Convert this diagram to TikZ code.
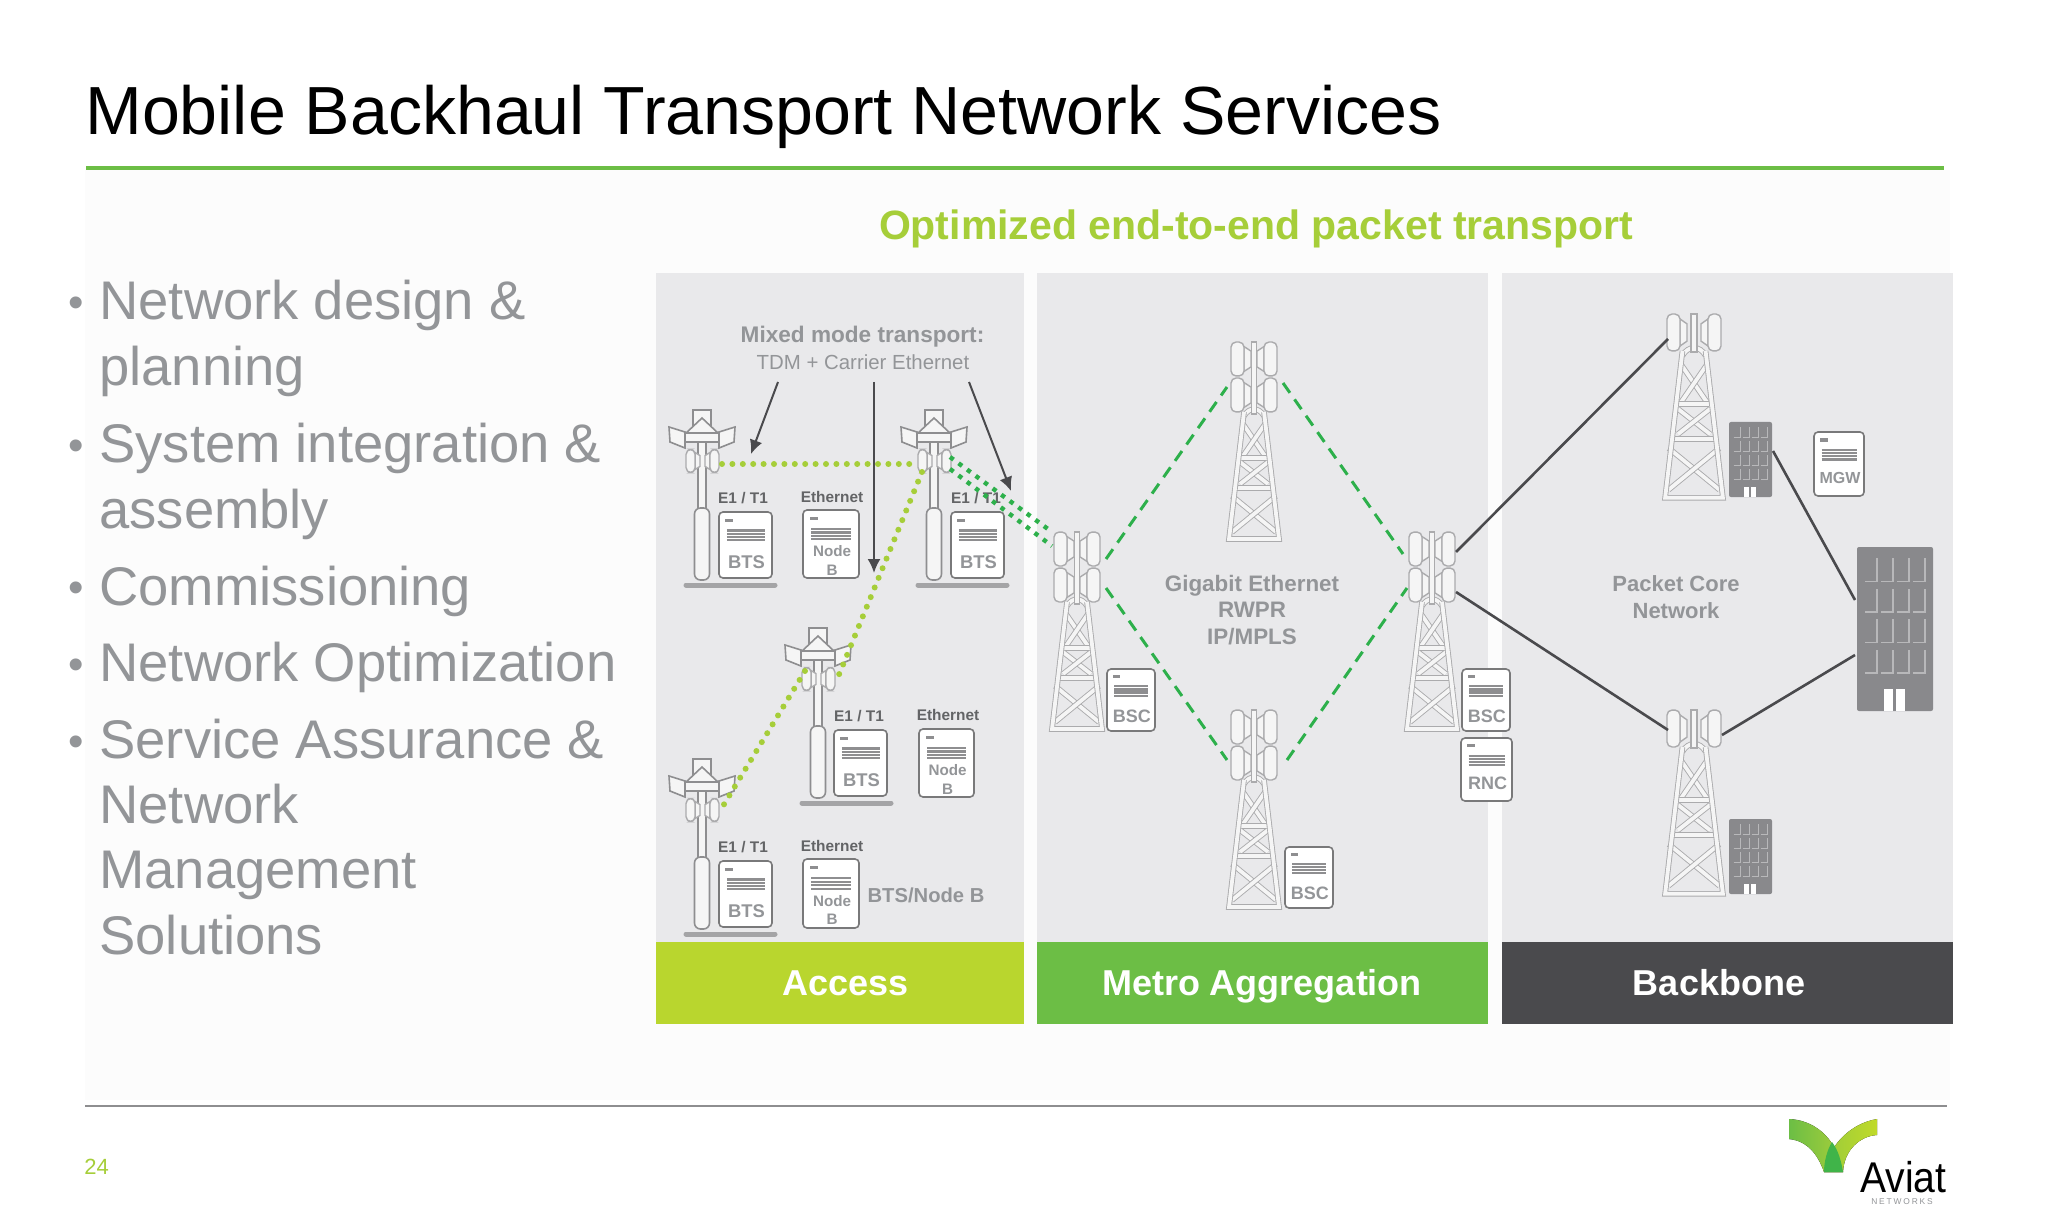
\documentclass[tikz,border=0pt]{standalone}
\usepackage{fontspec}
\setmainfont{Liberation Sans}
\usepackage{xcolor}
\usetikzlibrary{arrows.meta,positioning}

\definecolor{titlegreen}{HTML}{6CBE45}
\definecolor{limegreen}{HTML}{A6CE39}
\definecolor{barlime}{HTML}{B9D62E}
\definecolor{bardark}{HTML}{4A4A4D}
\definecolor{panelgray}{HTML}{E9E9EB}
\definecolor{softgray}{HTML}{939598}
\definecolor{labgray}{HTML}{636466}
\definecolor{linegray}{HTML}{8E8E90}
\definecolor{lightline}{HTML}{ABABAD}
\definecolor{partwhite}{HTML}{F5F5F5}
\definecolor{linkgreen}{HTML}{2DB04B}
\definecolor{bldgray}{HTML}{89898C}

\tikzset{
  part/.style={draw=linegray, line width=0.8pt, fill=partwhite},
  soft/.style={draw=lightline, line width=0.7pt, fill=partwhite},
  truss/.style={draw=lightline, line width=0.45pt, double=partwhite, double distance=1.9pt},
  pics/dish/.style={code={
    \draw[soft] (0,-7) -- (7,-11) -- (7,11) -- (0,7) -- cycle;
    \draw[soft, rounded corners=2.5pt] (7,-15) rectangle (20,15);
  }},
  pics/mast/.style={code={
    \draw[part] (-4,0) rectangle (4,100);
    \draw[part, rounded corners=3pt] (-7.5,98) rectangle (7.5,170);
    \draw[part] (-9,0) rectangle (9,20);
    \draw[part] (-17,24) -- (0,8) -- (17,24) -- cycle;
    \draw[part] (-33,17) -- (-17,22) -- (-17,38) -- (-32,32) -- cycle;
    \draw[part] (33,17) -- (17,22) -- (17,38) -- (32,32) -- cycle;
    \draw[part] (-17,23) rectangle (17,32);
    \pic[xscale=-0.7, yscale=0.77] at (-2,51) {dish};
    \pic[xscale=0.7, yscale=0.77] at (3,51) {dish};
    \draw[line width=2.5pt, linegray!80, line cap=round] (-16,175) -- (73,175);
  }},
  pics/lattice/.style={code={
    \draw[truss] (-10,4) .. controls (-5,-5) and (5,-5) .. (10,4);
    \draw[truss] (-11,12) -- (11,44);
    \draw[truss] (11,12) -- (-11,44);
    \draw[truss] (-13,46) -- (13,46);
    \draw[truss] (-14,50) -- (14,72);
    \draw[truss] (14,50) -- (-14,72);
    \draw[truss] (-17,76) -- (17,76);
    \draw[truss] (-22,84) -- (22,120);
    \draw[truss] (22,84) -- (-22,120);
    \draw[truss] (-10,0) -- (-25,127) -- (25,127) -- (10,0);
  }},
  pics/metrotower/.style={code={
    \pic at (0,70) {lattice};
    \draw[soft] (-2.5,0) rectangle (2.5,72);
    \pic[xscale=-1, yscale=1.13] at (-3,17) {dish};
    \pic[yscale=1.13] at (3,17) {dish};
    \pic[xscale=-1, yscale=1.13] at (-3,53) {dish};
    \pic[yscale=1.13] at (3,53) {dish};
  }},
  pics/coretower/.style={code={
    \pic[scale=1.156] at (0,37) {lattice};
    \draw[soft] (-3,0) rectangle (3,38);
    \pic[xscale=-1, yscale=1.23] at (-7,18.5) {dish};
    \pic[yscale=1.23] at (7,18.5) {dish};
  }},
  pics/unit/.style n args={5}{code={
    \draw[draw=linegray!85!black, line width=0.8pt, fill=white, rounded corners=2pt] (0,0) rectangle (#1,#2);
    \fill[linegray] (0.12*#1,0.1*#2) rectangle (0.27*#1,0.15*#2);
    \foreach \k in {0.28,0.33,0.38,0.43}
      \draw[linegray, line width=1.1pt] (0.15*#1,\k*#2) -- (0.86*#1,\k*#2);
    \node[font=\fontsize{#4}{9.2}\bfseries\selectfont, text=softgray, align=center, inner sep=0pt] (-lab) at (0.52*#1,#5*#2) {#3};
  }},
  pics/building/.style={code={
    \fill[bldgray, rounded corners=1pt] (0,0) rectangle (76,134);
    \foreach \r in {0,1,2,3}
      \foreach \c in {0,1,2,3}
        \draw[white!40!bldgray, line width=0.7pt] (8+16*\c,28+25*\r) -- (20+16*\c,28+25*\r) -- (20+16*\c,9+25*\r);
    \fill[white] (27,116) rectangle (48,134);
    \fill[bldgray] (36,116) rectangle (39,134);
  }},
}

\begin{document}
\begin{tikzpicture}[x=0.5pt, y=-0.5pt, >={Latex[length=7pt,width=6.5pt]}]
  % Styles
  \tikzstyle{titletxt}=[anchor=base west, inner sep=0pt, font=\fontsize{34.05}{40}\selectfont]
  \tikzstyle{bullet}=[anchor=base west, inner sep=0pt, text=softgray, font=\fontsize{27.2}{32}\selectfont]
  \tikzstyle{panel}=[fill=panelgray]
  \tikzstyle{bar}=[anchor=base, text=white, font=\fontsize{18}{22}\bfseries\selectfont]
  \tikzstyle{head}=[text=softgray, align=center, inner sep=0pt, font=\fontsize{11.2}{13.4}\bfseries\selectfont]
  \tikzstyle{lab}=[text=labgray, inner sep=0pt, font=\fontsize{7.7}{9}\bfseries\selectfont]
  \tikzstyle{note}=[draw=bardark, line width=1pt, ->]
  \tikzstyle{wire}=[draw=bardark, line width=1.3pt]
  \tikzstyle{ringlink}=[draw=linkgreen, line width=1.5pt, dash pattern=on 6pt off 4pt]
  \tikzstyle{limedots}=[draw=limegreen, line width=3pt, line cap=round, dash pattern=on 0pt off 5.2pt]
  \tikzstyle{greendots}=[draw=linkgreen, line width=2.2pt, dash pattern=on 2.2pt off 3.1pt]

  \useasboundingbox (0,0) rectangle (2048,1229);
  \fill[white] (0,0) rectangle (2048,1229);
  \fill[black!1] (85,170) rectangle (1950,1100);

  % Title
  \node[titletxt] (title) at (85,134.5) {Mobile Backhaul Transport Network Services};
  \draw[titlegreen, line width=2pt] (86,168.5) -- (1944,168.5);
  \node[inner sep=0pt, text=limegreen, anchor=base, font=\fontsize{20.5}{24}\bfseries\selectfont] (subtitle) at (1256,240) {Optimized end-to-end packet transport};

  % Bullet list
  \foreach \y/\t [count=\i] in {320/Network design \&, 386/planning, 463/System integration \&, 528/assembly, 605/Commissioning, 681/Network Optimization, 758/Service Assurance \&, 823/Network, 888/Management, 954/Solutions}
    \node[bullet] (line\i) at (99,\y) {\t};
  \foreach \y [count=\i] in {318,460,602,679,756}
    \node[bullet] (dot\i) at (68,\y) {\fontsize{22}{26}\selectfont •};

  % Panels
  \fill[panel] (656,273) rectangle (1024,942);
  \fill[panel] (1037,273) rectangle (1488,942);
  \fill[panel] (1502,273) rectangle (1953,942);
  \fill[barlime] (656,942) rectangle (1024,1024);
  \fill[titlegreen] (1037,942) rectangle (1488,1024);
  \fill[bardark] (1502,942) rectangle (1953,1024);
  \node[bar] (access) at (845.5,995) {Access};
  \node[bar] (metro) at (1262,995) {Metro Aggregation};
  \node[bar] (backbone) at (1719,995) {Backbone};

  % Access
  \node[head, font=\fontsize{11.3}{13}\bfseries\selectfont] (mixed) at (862.5,337) {Mixed mode transport:};
  \node[head, font=\fontsize{10.2}{13}\selectfont] (tdm) at (863,362) {TDM + Carrier Ethernet};
  \pic (m1) at (702,410) {mast};
  \pic (m2) at (934,410) {mast};
  \pic (m3) at (818,628) {mast};
  \pic (m4) at (702,759) {mast};
  \pic (bts1) at (719,512) {unit={53}{66}{BTS}{9.2}{0.76}};
  \pic (bts2) at (951,512) {unit={53}{66}{BTS}{9.2}{0.76}};
  \pic (bts3) at (834,730) {unit={53}{66}{BTS}{9.2}{0.76}};
  \pic (bts4) at (719,861) {unit={53}{66}{BTS}{9.2}{0.76}};
  \pic (nb1) at (803,510) {unit={56}{68}{Node\\B}{7.6}{0.74}};
  \pic (nb2) at (919,729) {unit={55}{68}{Node\\B}{7.6}{0.74}};
  \pic (nb3) at (803,859) {unit={56}{69}{Node\\B}{7.6}{0.74}};
  \node[lab] (e1a) at (743,498) {E1 / T1};
  \node[lab] (e1b) at (976,498) {E1 / T1};
  \node[lab] (e1c) at (859,716) {E1 / T1};
  \node[lab] (e1d) at (743,847) {E1 / T1};
  \node[lab] (eth1) at (832,497) {Ethernet};
  \node[lab] (eth2) at (948,715) {Ethernet};
  \node[lab] (eth3) at (832,846) {Ethernet};
  \node[head, font=\fontsize{10.1}{12}\bfseries\selectfont] (btsnb) at (926,895) {BTS/Node B};

  % Metro
  \pic (ml) at (1077,532) {metrotower};
  \pic (mt) at (1254,342) {metrotower};
  \pic (mb) at (1254,710) {metrotower};
  \pic (mr) at (1432,532) {metrotower};
  \pic (bsc1) at (1107,669) {unit={48}{62}{BSC}{9}{0.76}};
  \pic (bsc2) at (1462,669) {unit={48}{62}{BSC}{9}{0.76}};
  \pic (bsc3) at (1285,847) {unit={48}{61}{BSC}{9}{0.76}};
  \pic (rnc) at (1461,738) {unit={51}{63}{RNC}{9}{0.72}};
  \node[head] (gige) at (1252,610) {Gigabit Ethernet\\RWPR\\IP/MPLS};

  % Backbone
  \pic (ct) at (1694,314) {coretower};
  \pic (cb) at (1694,710) {coretower};
  \pic[xscale=0.566, yscale=0.56] (sb1) at (1729,422) {building};
  \pic[xscale=0.566, yscale=0.56] (sb2) at (1729,819) {building};
  \pic[yscale=1.224] (hq) at (1857,547) {building};
  \pic (mgw) at (1814,432) {unit={50}{64}{MGW}{8}{0.72}};
  \node[head, font=\fontsize{11}{13.2}\bfseries\selectfont] (pcore) at (1676,597) {Packet Core\\Network};

  % Link ends
  \coordinate (a1) at (778,382);
  \coordinate (a2) at (751,454);
  \coordinate (b1) at (874,382);
  \coordinate (b2) at (874,573);
  \coordinate (c1) at (969,382);
  \coordinate (c2) at (1011,491);
  \coordinate (m1r) at (722,464);
  \coordinate (m2l) at (917,464);
  \coordinate (m2b) at (922,472);
  \coordinate (m3r) at (838,677);
  \coordinate (m3l) at (805,671);
  \coordinate (m4r) at (723,806);
  \coordinate (m2u) at (950,457);
  \coordinate (m2d) at (950,469);
  \coordinate (mlu) at (1052,532);
  \coordinate (mld) at (1052,546);
  \coordinate (ml1) at (1106,559);
  \coordinate (ml2) at (1106,588);
  \coordinate (mt1) at (1227,387);
  \coordinate (mt2) at (1283,383);
  \coordinate (mb1) at (1227,760);
  \coordinate (mb2) at (1287,760);
  \coordinate (mr1) at (1403,554);
  \coordinate (mr2) at (1407,588);
  \coordinate (mr3) at (1456,552);
  \coordinate (mr4) at (1456,592);
  \coordinate (ct1) at (1668,339);
  \coordinate (cb1) at (1668,730);
  \coordinate (cb2) at (1722,735);
  \coordinate (sb1r) at (1773,451);
  \coordinate (hq1) at (1855,600);
  \coordinate (hq2) at (1855,655);

  \draw[note] (a1) -- (a2);
  \draw[note] (b1) -- (b2);
  \draw[note] (c1) -- (c2);

  \draw[limedots] (m1r) -- (m2l);
  \draw[limedots] (m2b) -- (m3r);
  \draw[limedots] (m3l) -- (m4r);
  \draw[greendots] (m2u) -- (mlu);
  \draw[greendots] (m2d) -- (mld);

  \draw[ringlink] (ml1) -- (mt1);
  \draw[ringlink] (mt2) -- (mr1);
  \draw[ringlink] (ml2) -- (mb1);
  \draw[ringlink] (mb2) -- (mr2);

  \draw[wire] (mr3) -- (ct1);
  \draw[wire] (mr4) -- (cb1);
  \draw[wire] (cb2) -- (hq2);
  \draw[wire] (sb1r) -- (hq1);

  % Footer
  \draw[linegray, line width=1.2pt] (85,1106) -- (1947,1106);
  \node[inner sep=0pt, anchor=west, text=limegreen, font=\fontsize{11}{13}\selectfont] (pageno) at (84,1167) {24};

  % Logo
  \fill[left color=titlegreen, right color=limegreen] (1789,1119) .. controls (1812,1120) and (1836,1135) .. (1843,1172) -- (1824,1172) .. controls (1818,1155) and (1808,1141) .. (1789,1139) -- cycle;
  \fill[left color=limegreen!80!titlegreen, right color=barlime!90!yellow] (1877,1119) -- (1877,1135) .. controls (1860,1136) and (1844,1150) .. (1843,1172) -- (1824,1172) .. controls (1828,1148) and (1848,1124) .. (1877,1119) -- cycle;
  \fill[linkgreen!70!titlegreen] (1832,1142) .. controls (1838,1150) and (1841,1160) .. (1843,1172) -- (1824,1172) .. controls (1824,1162) and (1827,1150) .. (1832,1142) -- cycle;
  \node[inner sep=0pt, anchor=base east, font=\fontsize{21.5}{24}\selectfont\addfontfeature{FakeStretch=0.91}] (aviat) at (1947,1192) {Aviat};
  \node[inner sep=0pt, anchor=center, text=softgray, font=\fontsize{4.2}{5}\selectfont\addfontfeature{LetterSpace=22}] (networks) at (1902,1202) {NETWORKS};
\end{tikzpicture}
\end{document}
